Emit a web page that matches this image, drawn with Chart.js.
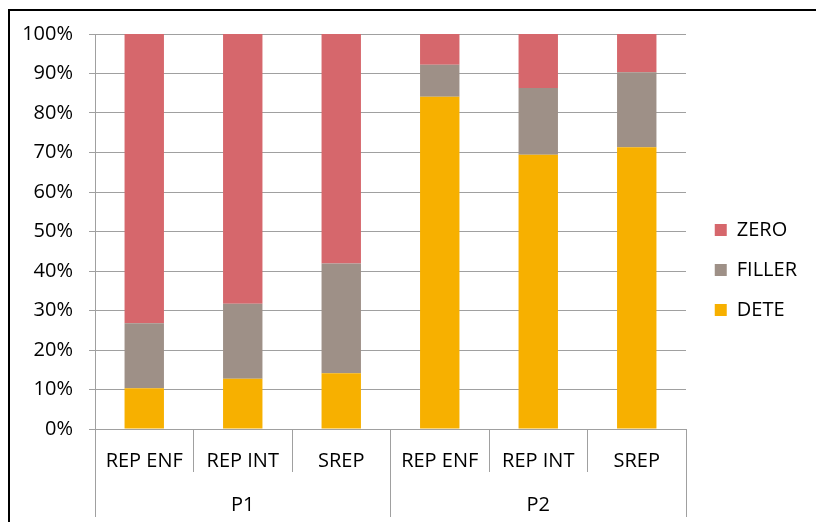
<!DOCTYPE html>
<html><head><meta charset="utf-8">
<script src="https://cdn.jsdelivr.net/npm/chart.js@4/dist/chart.umd.min.js"></script>
<style>
html,body{margin:0;padding:0;background:#fff;overflow:hidden;width:816px;height:522px;}
#frame{position:absolute;left:8px;top:9px;width:900px;height:700px;border:2px solid #000;box-sizing:border-box;}
#wrap{position:absolute;left:0;top:0;width:816px;height:522px;}
</style></head><body>
<div id="frame"></div>
<div id="wrap"><canvas id="c" width="816" height="522"></canvas></div>
<script>
const categories = ['REP ENF', 'REP INT', 'SREP', 'REP ENF', 'REP INT', 'SREP'];
const groups = ['P1', 'P2'];
const seriesNames = ['DETE', 'FILLER', 'ZERO'];
const dete   = [10.3, 12.7, 14.1, 84.1, 69.4, 71.3];
const filler = [16.5, 19.0, 27.8, 8.1, 16.9, 19.0];
const zero   = [73.2, 68.3, 58.1, 7.8, 13.7, 9.7];
const yTickStep = 10;
const yMax = 100;

const colors = ['#F7B000', '#9E9087', '#D6676C'];
const gridColor = '#a0a0a0';
const PLOT_RIGHT = 686;
const PAD_RIGHT = 9;

Chart.defaults.font.family = "'Open Sans', sans-serif";
Chart.defaults.font.size = 20;
Chart.defaults.color = '#000';

new Chart(document.getElementById('c'), {
  type: 'bar',
  data: {
    labels: categories,
    datasets: [dete, filler, zero].map((d, i) => ({
      label: seriesNames[i],
      data: d,
      backgroundColor: colors[i],
      borderWidth: 0,
      categoryPercentage: 1,
      barPercentage: 0.4
    }))
  },
  options: {
    responsive: false,
    animation: false,
    layout: { padding: { top: 34, bottom: 5, left: 0, right: PAD_RIGHT } },
    plugins: {
      tooltip: { enabled: false },
      legend: {
        position: 'right',
        reverse: true,
        align: 'start',
        title: { display: true, text: '', padding: { top: 0, bottom: 142 } },
        labels: { boxWidth: 12, boxHeight: 12, padding: 20, color: '#000', font: { size: 20 } }
      }
    },
    scales: {
      x: {
        stacked: true,
        offset: true,
        weight: 0,
        grid: { display: true, drawOnChartArea: false, drawTicks: true, tickLength: 43, offset: true, color: gridColor },
        border: { display: true, color: gridColor },
        ticks: { autoSkip: false, maxRotation: 0, padding: -23, color: '#000' },
        afterFit: s => { s.height = 43; }
      },
      x2: {
        type: 'category',
        labels: groups,
        position: 'bottom',
        offset: true,
        weight: 1,
        grid: { display: true, drawOnChartArea: false, drawTicks: true, tickLength: 45, offset: true, color: gridColor },
        border: { display: false },
        ticks: { autoSkip: false, maxRotation: 0, padding: -24, color: '#000' },
        afterFit: s => { s.height = 45; }
      },
      y: {
        stacked: true,
        min: 0,
        max: yMax,
        ticks: { stepSize: yTickStep, padding: 16, color: '#000', callback: v => v + '%' },
        grid: { color: gridColor, drawTicks: true, tickLength: 6 },
        border: { display: true, color: gridColor },
        afterFit: s => { s.width = 95; }
      },
      yr: {
        type: 'linear',
        position: 'right',
        display: true,
        grid: { display: false },
        ticks: { display: false },
        border: { display: false },
        afterFit: s => {
          const lw = s.chart.legend ? s.chart.legend.width : 110;
          s.width = Math.max(0, 816 - PAD_RIGHT - PLOT_RIGHT - lw);
        }
      }
    }
  }
});
</script>
</body></html>
